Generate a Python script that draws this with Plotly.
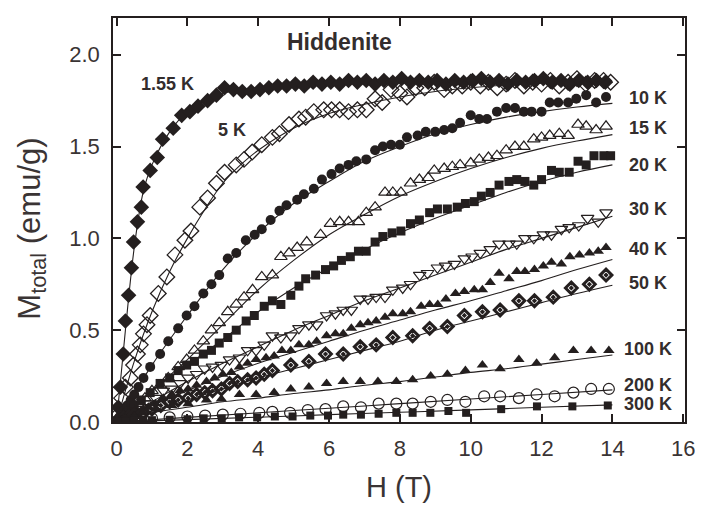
import plotly.graph_objects as go

# ---------------- data ----------------
H_155 = [0.00,0.05,0.11,0.19,0.25,0.34,0.42,0.48,0.59,0.70,
         0.75,0.95,1.15,1.30,1.60,1.84,2.07,2.30,2.57,2.82,
         3.05,3.30,3.55,3.80,4.05,4.30,4.55,4.80,5.05,5.30,
         5.55,5.80,6.05,6.30,6.55,6.80,7.05,7.30,7.55,7.80,
         8.05,8.30,8.55,8.80,9.05,9.30,9.55,9.80,10.05,10.30,
         10.55,10.80,11.05,11.30,11.55,11.80,12.05,12.30,12.55,12.80,
         13.05,13.30,13.55,13.80]
M_155 = [0.00,0.08,0.19,0.37,0.55,0.69,0.84,0.98,1.09,1.17,
         1.28,1.37,1.44,1.54,1.60,1.67,1.69,1.72,1.75,1.78,
         1.82,1.81,1.80,1.80,1.81,1.82,1.83,1.83,1.84,1.83,
         1.85,1.84,1.85,1.84,1.86,1.85,1.86,1.84,1.86,1.85,
         1.87,1.85,1.86,1.85,1.86,1.84,1.86,1.85,1.86,1.87,
         1.85,1.86,1.84,1.86,1.85,1.86,1.87,1.85,1.86,1.84,
         1.86,1.85,1.86,1.85]

H_5 = [0.00,0.05,0.14,0.25,0.39,0.48,0.59,0.67,0.76,0.86,
       0.95,1.18,1.42,1.65,1.93,2.10,2.35,2.57,2.82,3.05,
       3.38,3.60,3.83,4.10,4.40,4.60,4.87,5.15,5.34,5.57,
       5.85,6.07,6.30,6.55,6.80,7.05,7.30,7.50,7.75,8.00,
       8.20,8.45,8.70,8.97,9.25,9.48,9.76,10.00,10.27,10.50,
       10.75,11.00,11.25,11.50,11.75,12.00,12.25,12.50,12.75,13.00,
       13.25,13.50,13.75,13.95]
M_5 = [0.00,0.04,0.13,0.19,0.24,0.31,0.37,0.42,0.48,0.53,
       0.58,0.70,0.79,0.91,0.99,1.04,1.17,1.22,1.30,1.36,
       1.40,1.43,1.47,1.51,1.55,1.57,1.62,1.65,1.66,1.69,
       1.70,1.70,1.70,1.69,1.70,1.70,1.76,1.74,1.81,1.79,
       1.77,1.82,1.82,1.85,1.81,1.83,1.83,1.85,1.83,1.85,
       1.82,1.84,1.86,1.83,1.85,1.84,1.86,1.83,1.85,1.87,
       1.84,1.86,1.86,1.85]

H_10 = [0.00,0.10,0.20,0.30,0.40,0.50,0.62,0.76,0.95,1.23,
        1.46,1.74,1.98,2.20,2.45,2.68,2.90,3.14,3.38,3.65,
        3.90,4.10,4.35,4.60,4.80,5.10,5.29,5.57,5.80,6.07,
        6.30,6.55,6.77,7.05,7.30,7.52,7.75,8.00,8.20,8.50,
        8.73,9.00,9.25,9.48,9.70,10.00,10.24,10.46,10.74,11.00,
        11.25,11.50,11.72,12.00,12.23,12.47,12.75,12.98,13.26,13.54,
        13.82]
M_10 = [0.00,0.03,0.06,0.09,0.12,0.15,0.19,0.24,0.30,0.37,
        0.44,0.51,0.58,0.63,0.70,0.75,0.80,0.89,0.92,0.99,
        1.02,1.05,1.10,1.15,1.18,1.21,1.24,1.27,1.32,1.35,
        1.38,1.40,1.42,1.43,1.48,1.50,1.51,1.51,1.55,1.56,
        1.58,1.58,1.59,1.60,1.63,1.67,1.65,1.65,1.69,1.71,
        1.71,1.69,1.69,1.69,1.74,1.74,1.74,1.76,1.78,1.74,
        1.77]

H_15 = [0.00,0.10,0.20,0.30,0.45,0.60,0.80,1.00,1.23,1.46,
        1.74,1.98,2.20,2.45,2.68,2.90,3.14,3.38,3.60,3.84,
        4.10,4.40,4.64,4.87,5.10,5.37,5.76,6.04,6.30,6.55,
        6.83,7.05,7.30,7.58,7.80,8.03,8.30,8.55,8.80,8.97,
        9.25,9.48,9.70,10.00,10.24,10.50,10.74,11.00,11.25,11.50,
        11.78,12.00,12.23,12.50,12.75,13.03,13.26,13.54,13.82]
M_15 = [0.00,0.02,0.04,0.06,0.08,0.10,0.13,0.17,0.20,0.24,
        0.30,0.34,0.39,0.44,0.50,0.54,0.60,0.64,0.68,0.72,
        0.79,0.80,0.90,0.92,0.95,0.98,1.02,1.08,1.09,1.09,
        1.09,1.14,1.17,1.25,1.25,1.25,1.30,1.32,1.33,1.37,
        1.38,1.39,1.40,1.41,1.43,1.44,1.45,1.48,1.50,1.50,
        1.54,1.55,1.56,1.57,1.56,1.62,1.61,1.59,1.61]

H_20 = [0.00,0.10,0.20,0.35,0.50,0.70,0.95,1.23,1.50,1.74,
        1.98,2.20,2.45,2.68,2.90,3.14,3.38,3.66,3.89,4.17,
        4.40,4.64,4.92,5.15,5.34,5.62,5.90,6.13,6.35,6.60,
        6.83,7.05,7.30,7.52,7.78,8.03,8.30,8.55,8.84,9.06,
        9.34,9.62,9.85,10.10,10.30,10.55,10.80,11.08,11.30,11.53,
        11.78,12.00,12.28,12.50,12.78,13.03,13.26,13.48,13.76,13.95]
M_20 = [0.00,0.02,0.04,0.06,0.09,0.12,0.16,0.21,0.24,0.28,
        0.31,0.33,0.37,0.39,0.43,0.46,0.50,0.55,0.58,0.63,
        0.66,0.64,0.69,0.74,0.78,0.80,0.83,0.85,0.88,0.90,
        0.93,0.93,0.98,1.01,1.03,1.04,1.08,1.10,1.14,1.16,
        1.16,1.17,1.19,1.20,1.23,1.25,1.29,1.31,1.32,1.31,
        1.29,1.32,1.37,1.36,1.36,1.42,1.40,1.45,1.45,1.45]

H_30 = [0.00,0.10,0.20,0.35,0.50,0.70,0.90,1.10,1.32,1.56,
        1.79,2.02,2.26,2.49,2.71,2.96,3.19,3.47,3.70,3.94,
        4.17,4.40,4.64,4.92,5.15,5.43,5.65,5.93,6.18,6.40,
        6.63,6.88,7.10,7.33,7.58,7.80,8.08,8.30,8.56,8.78,
        9.06,9.29,9.54,9.82,10.04,10.27,10.55,10.80,11.08,11.30,
        11.53,11.78,12.05,12.28,12.56,12.78,13.05,13.30,13.60,13.82]
M_30 = [0.00,0.01,0.02,0.04,0.06,0.08,0.10,0.13,0.17,0.18,
        0.21,0.24,0.26,0.29,0.30,0.31,0.34,0.35,0.39,0.39,
        0.42,0.47,0.46,0.47,0.51,0.53,0.53,0.58,0.59,0.61,
        0.61,0.67,0.67,0.68,0.68,0.72,0.73,0.75,0.80,0.81,
        0.84,0.85,0.86,0.89,0.90,0.92,0.94,0.97,0.97,0.97,
        1.00,1.00,1.02,1.02,1.05,1.06,1.07,1.11,1.09,1.14]

H_40 = [0.00,0.10,0.20,0.35,0.50,0.70,0.90,1.10,1.32,1.56,
        1.79,2.02,2.26,2.54,2.77,3.00,3.24,3.47,3.70,3.94,
        4.22,4.45,4.67,4.92,5.15,5.43,5.65,5.93,6.18,6.40,
        6.63,6.88,7.10,7.33,7.58,7.80,8.08,8.30,8.60,8.84,
        9.07,9.30,9.57,9.82,10.10,10.33,10.55,10.80,11.08,11.30,
        11.53,11.80,12.05,12.28,12.56,12.80,13.07,13.35,13.60,13.82]
M_40 = [0.00,0.01,0.02,0.03,0.05,0.06,0.08,0.10,0.13,0.15,
        0.17,0.18,0.20,0.22,0.24,0.26,0.27,0.30,0.32,0.34,
        0.35,0.36,0.39,0.39,0.42,0.42,0.44,0.47,0.48,0.48,
        0.51,0.53,0.54,0.55,0.57,0.59,0.59,0.60,0.63,0.64,
        0.64,0.67,0.70,0.71,0.72,0.72,0.76,0.81,0.78,0.82,
        0.82,0.83,0.85,0.87,0.86,0.90,0.91,0.92,0.93,0.95]

H_50 = [0.00,0.10,0.20,0.35,0.50,0.75,1.00,1.25,1.50,1.74,
        2.02,2.26,2.49,2.71,2.96,3.19,3.42,3.70,3.94,4.17,
        4.40,4.92,5.43,5.90,6.40,6.88,7.33,7.80,8.36,8.84,
        9.34,9.82,10.33,10.83,11.36,11.80,12.33,12.84,13.35,13.82]
M_50 = [0.00,0.01,0.02,0.03,0.04,0.05,0.07,0.09,0.11,0.12,
        0.13,0.15,0.16,0.17,0.18,0.21,0.22,0.23,0.24,0.26,
        0.28,0.31,0.33,0.37,0.37,0.41,0.42,0.46,0.47,0.51,
        0.52,0.58,0.60,0.61,0.66,0.66,0.68,0.73,0.75,0.80]

H_100 = [0.00,0.10,0.25,0.50,0.75,1.10,1.56,2.02,2.54,2.96,
         3.47,3.94,4.45,4.92,5.43,5.93,6.40,6.88,7.38,7.90,
         8.36,8.87,9.34,9.85,10.33,10.83,11.36,11.86,12.37,12.90,
         13.40,13.90]
M_100 = [0.00,0.01,0.02,0.03,0.05,0.07,0.09,0.10,0.12,0.125,
         0.15,0.15,0.16,0.18,0.19,0.21,0.22,0.22,0.22,0.22,
         0.23,0.25,0.26,0.28,0.31,0.29,0.34,0.32,0.35,0.39,
         0.39,0.39]

H_200 = [0.00,0.10,0.25,0.50,0.75,1.00,1.50,2.00,2.50,3.00,
         3.50,4.03,4.40,4.90,5.40,5.90,6.40,6.90,7.40,7.90,
         8.36,8.87,9.34,9.85,10.38,10.83,11.36,11.86,12.37,12.90,
         13.40,13.90]
M_200 = [0.000,0.003,0.006,0.010,0.015,0.020,0.025,0.030,0.035,0.040,
         0.045,0.050,0.055,0.050,0.065,0.070,0.085,0.080,0.100,0.100,
         0.100,0.110,0.120,0.110,0.140,0.140,0.130,0.150,0.140,0.160,
         0.180,0.180]

H_300 = [0.00,0.10,0.25,0.50,0.75,1.00,1.50,2.00,2.46,2.97,
         3.46,3.97,4.47,4.97,5.47,5.97,6.40,6.90,7.40,7.90,
         8.36,8.86,9.37,9.87,10.86,11.87,12.87,13.87]
M_300 = [0.000,0.002,0.004,0.006,0.008,0.010,0.012,0.015,0.020,0.020,
         0.025,0.025,0.030,0.030,0.035,0.035,0.040,0.040,0.045,0.050,
         0.050,0.050,0.060,0.050,0.070,0.085,0.085,0.090]

# fitted curves
FIT_H_155 = [0,0.1,0.25,0.5,0.75,1.0,1.5,2.0,2.5,3.0,4,5,6,8,10,12,14]
FIT_M_155 = [0,0.20,0.50,0.95,1.25,1.40,1.58,1.69,1.75,1.79,1.82,1.84,1.845,1.85,1.85,1.85,1.85]
FIT_H_5 = [0,0.5,1,1.5,2,2.5,3,3.5,4,5,6,7,8,9,10,11,12,13,14]
FIT_M_5 = [0,0.33,0.60,0.82,1.00,1.16,1.30,1.40,1.48,1.60,1.68,1.73,1.77,1.80,1.82,1.835,1.845,1.85,1.855]
FIT_H = [0,1,2,3,4,5,6,7,8,9,10,11,12,13,14]
FIT_M_10 = [0,0.31,0.58,0.83,1.03,1.19,1.31,1.42,1.50,1.57,1.62,1.66,1.69,1.715,1.735]
FIT_M_15 = [0,0.17,0.34,0.53,0.72,0.88,1.02,1.13,1.23,1.31,1.38,1.44,1.49,1.53,1.565]
FIT_M_20 = [0,0.17,0.31,0.45,0.60,0.73,0.84,0.94,1.03,1.11,1.18,1.25,1.31,1.36,1.40]
FIT_M_30 = [0,0.11,0.22,0.32,0.41,0.50,0.58,0.66,0.73,0.80,0.87,0.94,1.00,1.06,1.12]
FIT_M_40 = [0,0.09,0.17,0.25,0.32,0.38,0.44,0.50,0.555,0.61,0.66,0.715,0.77,0.83,0.885]
FIT_M_50 = [0,0.06,0.12,0.18,0.24,0.29,0.34,0.39,0.44,0.50,0.55,0.60,0.65,0.70,0.745]
FIT_M_100 = [0,0.05,0.08,0.11,0.13,0.155,0.175,0.20,0.22,0.245,0.27,0.29,0.315,0.34,0.365]
FIT_H_LIN = [0,2,4,6,8,10,12,14]
FIT_M_200 = [0,0.025,0.05,0.075,0.10,0.125,0.15,0.175]
FIT_M_300 = [0,0.013,0.026,0.04,0.053,0.066,0.08,0.093]

LABELS = ["10 K","15 K","20 K","30 K","40 K","50 K","100 K","200 K","300 K"]
LABEL_Y = [1.765,1.60,1.40,1.16,0.94,0.755,0.40,0.20,0.10]

# ---------------- figure ----------------
INK = "#241f1f"
TXT = "#332d2d"
AXT = "#3a3434"
FONT = "Liberation Sans, Arial"
fig = go.Figure()

fits = [(FIT_H_155, FIT_M_155), (FIT_H_5, FIT_M_5), (FIT_H, FIT_M_10), (FIT_H, FIT_M_15),
        (FIT_H, FIT_M_20), (FIT_H, FIT_M_30), (FIT_H, FIT_M_40), (FIT_H, FIT_M_50),
        (FIT_H, FIT_M_100), (FIT_H_LIN, FIT_M_200), (FIT_H_LIN, FIT_M_300)]
for fx, fy in fits:
    fig.add_trace(go.Scatter(x=fx, y=fy, mode="lines", line=dict(color=INK, width=1.1, shape="spline"),
                             hoverinfo="skip", showlegend=False))

series = [
    (H_155, M_155, "diamond", 12, 0),
    (H_5, M_5, "diamond-open", 12, 1.3),
    (H_10, M_10, "circle", 10, 0),
    (H_15, M_15, "triangle-up-open", 11, 1.2),
    (H_20, M_20, "square", 9, 0),
    (H_30, M_30, "triangle-down-open", 11, 1.2),
    (H_40, M_40, "triangle-up", 10, 0),
    (H_50, M_50, "diamond-open-dot", 9, 3),
    (H_100, M_100, "triangle-up", 10, 0),
    (H_200, M_200, "circle-open", 11, 1.2),
    (H_300, M_300, "square", 8, 0),
]
for hx, my, sym, sz, lw in series:
    fig.add_trace(go.Scatter(x=hx, y=my, mode="markers",
                             marker=dict(symbol=sym, size=sz, color=INK,
                                         line=dict(color=INK, width=lw)),
                             showlegend=False))

ann = [dict(x=6.3, y=2.07, text="<b>Hiddenite</b>", size=23),
       dict(x=1.45, y=1.84, text="<b>1.55 K</b>", size=18),
       dict(x=3.27, y=1.59, text="<b>5 K</b>", size=18)]
for lab, ly in zip(LABELS, LABEL_Y):
    ann.append(dict(x=15.0, y=ly, text="<b>" + lab + "</b>", size=18))
for a in ann:
    fig.add_annotation(x=a["x"], y=a["y"], text=a["text"], showarrow=False,
                       xref="x", yref="y",
                       font=dict(family=FONT, size=a["size"], color=TXT))

# y-axis title placed as a rotated annotation so it sits at the reference position
fig.add_annotation(x=-0.142, y=0.478, xref="paper", yref="paper", xanchor="center", yanchor="middle",
                   text="M<sub>total</sub> (emu/g)", textangle=-90, showarrow=False,
                   font=dict(family=FONT, size=31, color=AXT))

axis_common = dict(showline=True, linecolor=INK, linewidth=1.6, mirror="ticks",
                   ticks="inside", ticklen=8, tickwidth=1.5, tickcolor=INK,
                   showgrid=False, zeroline=False,
                   tickfont=dict(family=FONT, size=22, color=AXT))
fig.update_xaxes(range=[-0.1, 16.05], tickvals=[0,2,4,6,8,10,12,14,16],
                 ticklabelstandoff=6,
                 title=dict(text="H (T)", font=dict(family=FONT, size=29, color=AXT),
                            standoff=16),
                 **axis_common)
fig.update_yaxes(range=[0, 2.2], tickvals=[0,0.5,1.0,1.5,2.0], tickformat=".1f",
                 ticklabelstandoff=7,
                 **axis_common)
fig.update_layout(width=695, height=500, paper_bgcolor="white", plot_bgcolor="white",
                  margin=dict(l=105, r=17, t=8, b=86), showlegend=False)

fig.write_html("out.html")
